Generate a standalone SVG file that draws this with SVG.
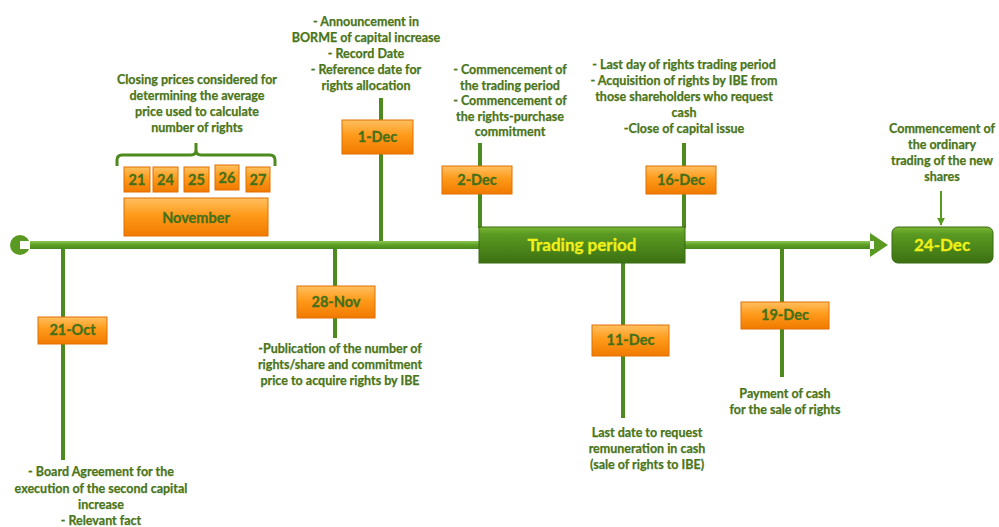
<svg xmlns="http://www.w3.org/2000/svg" width="999" height="527" viewBox="0 0 999 527">
<defs>
<linearGradient id="og" x1="0" y1="0" x2="0" y2="1">
<stop offset="0" stop-color="#ffc060"/>
<stop offset="0.45" stop-color="#ff9a1a"/>
<stop offset="1" stop-color="#f07a00"/>
</linearGradient>
<linearGradient id="gg" x1="0" y1="0" x2="0" y2="1">
<stop offset="0" stop-color="#7ab733"/>
<stop offset="0.2" stop-color="#5a9a22"/>
<stop offset="1" stop-color="#3c7012"/>
</linearGradient>
<linearGradient id="ax" x1="0" y1="0" x2="0" y2="1">
<stop offset="0" stop-color="#8cc850"/>
<stop offset="0.5" stop-color="#5c9e25"/>
<stop offset="1" stop-color="#4a8a1a"/>
</linearGradient>
<marker id="ah" viewBox="0 0 10 10" refX="9" refY="5" markerWidth="4" markerHeight="4" orient="auto">
<path d="M0,0 L10,5 L0,10 z" fill="#5a9a22"/>
</marker>
</defs>
<style>
text{font-family:"Lato","Open Sans","Liberation Sans",sans-serif;font-weight:bold;text-anchor:middle}
.t{font-size:12.5px;fill:#4a7518;stroke:#4a7518;stroke-width:0.25px}
.d{font-size:14.5px;fill:#44701a;stroke:#44701a;stroke-width:0.3px}
.y{font-size:17px;fill:#f0f018;stroke:#f0f018;stroke-width:0.3px}
.ob{fill:url(#og);stroke:#e07000;stroke-width:1}
.stem{stroke:#4e8a1e;stroke-width:4;fill:none}
</style>
<g id="connectors">
<line class="stem" x1="63" y1="249" x2="63" y2="460"/>
<line class="stem" x1="335" y1="249" x2="335" y2="338"/>
<line class="stem" x1="381" y1="98" x2="381" y2="242"/>
<line class="stem" x1="480" y1="143" x2="480" y2="228"/>
<line class="stem" x1="684" y1="143" x2="684" y2="228"/>
<line class="stem" x1="623" y1="262" x2="623" y2="418"/>
<line class="stem" x1="782" y1="249" x2="782" y2="377"/>
<line x1="941" y1="191" x2="941" y2="225" stroke="#5a9a22" stroke-width="2" marker-end="url(#ah)"/>
<path d="M117,166 V160 Q117,155 122,155 H191 Q196,155 196,150 V143 M196,150 Q196,155 201,155 H270 Q275,155 275,160 V166" fill="none" stroke="#4e8a1e" stroke-width="3"/>
</g>
<g id="axis">
<rect x="20" y="241" width="852" height="8" fill="url(#ax)"/>
<circle cx="20" cy="245" r="10" fill="#5a9a22"/>
<rect x="20" y="241" width="10" height="8" fill="#fff"/>
<path d="M870,233 L888,245 L870,257 z" fill="#5a9a22"/>
<rect x="870" y="241" width="4" height="8" fill="#fff"/>
</g>
<g id="trading-period">
<rect x="479" y="227" width="206" height="36" fill="url(#gg)" stroke="#3a6a10"/>
<text class="y" x="582" y="251">Trading period</text>
</g>
<g id="dec24">
<rect x="892" y="227" width="101" height="36" rx="6" fill="url(#gg)" stroke="#3a6a10"/>
<text class="y" x="942" y="251">24-Dec</text>
<text class="t"><tspan x="942" y="133">Commencement of</tspan><tspan x="942" y="149">the ordinary</tspan><tspan x="942" y="165">trading of the new</tspan><tspan x="942" y="181">shares</tspan></text>
</g>
<g id="november">
<text class="t"><tspan x="197" y="84">Closing prices considered for</tspan><tspan x="197" y="100">determining the average</tspan><tspan x="197" y="116">price used to calculate</tspan><tspan x="197" y="132">number of rights</tspan></text>
<rect class="ob" x="124" y="167" width="26" height="25"/><text class="d" x="137" y="185">21</text>
<rect class="ob" x="153" y="167" width="25" height="25"/><text class="d" x="165.5" y="185">24</text>
<rect class="ob" x="184" y="167" width="25" height="25"/><text class="d" x="196.5" y="185">25</text>
<rect class="ob" x="215" y="165" width="24" height="25"/><text class="d" x="227" y="183">26</text>
<rect class="ob" x="246" y="167" width="24" height="25"/><text class="d" x="258" y="185">27</text>
<rect class="ob" x="124" y="198" width="144" height="38"/><text class="d" x="196" y="223">November</text>
</g>
<g id="oct21">
<rect class="ob" x="38" y="317" width="69" height="27"/>
<text class="d" x="72.5" y="335">21-Oct</text>
<text class="t"><tspan x="101" y="476">-  Board Agreement for the</tspan><tspan x="101" y="493">execution of the second capital</tspan><tspan x="101" y="509">increase</tspan><tspan x="101" y="525">-  Relevant fact</tspan></text>
</g>
<g id="nov28">
<rect class="ob" x="297" y="286" width="78" height="32"/>
<text class="d" x="336" y="307">28-Nov</text>
<text class="t"><tspan x="340" y="353">-Publication of the number of</tspan><tspan x="340" y="369">rights/share and commitment</tspan><tspan x="340" y="385">price to acquire rights by IBE</tspan></text>
</g>
<g id="dec1">
<rect class="ob" x="342" y="120" width="71" height="34"/>
<text class="d" x="377.5" y="142">1-Dec</text>
<text class="t"><tspan x="366" y="26">- Announcement in</tspan><tspan x="366" y="42">BORME of capital increase</tspan><tspan x="366" y="58">- Record Date</tspan><tspan x="366" y="74">- Reference date for</tspan><tspan x="366" y="90">rights allocation</tspan></text>
</g>
<g id="dec2">
<rect class="ob" x="442" y="166" width="70" height="28"/>
<text class="d" x="477" y="185">2-Dec</text>
<text class="t"><tspan x="510" y="74">- Commencement of</tspan><tspan x="510" y="90">the trading period</tspan><tspan x="510" y="105">- Commencement of</tspan><tspan x="510" y="121">the rights-purchase</tspan><tspan x="510" y="136">commitment</tspan></text>
</g>
<g id="dec16">
<rect class="ob" x="646" y="166" width="70" height="28"/>
<text class="d" x="681" y="185">16-Dec</text>
<text class="t"><tspan x="684" y="69">- Last day of rights trading period</tspan><tspan x="684" y="85">- Acquisition of rights by IBE from</tspan><tspan x="684" y="101">those shareholders who request</tspan><tspan x="684" y="117">cash</tspan><tspan x="684" y="133">-Close of capital issue</tspan></text>
</g>
<g id="dec11">
<rect class="ob" x="592" y="325" width="77" height="31"/>
<text class="d" x="630.5" y="345">11-Dec</text>
<text class="t"><tspan x="647" y="437">Last date to request</tspan><tspan x="647" y="453">remuneration in cash</tspan><tspan x="647" y="469">(sale of rights to IBE)</tspan></text>
</g>
<g id="dec19">
<rect class="ob" x="741" y="302" width="88" height="27"/>
<text class="d" x="785" y="320">19-Dec</text>
<text class="t"><tspan x="785" y="398">Payment of cash</tspan><tspan x="785" y="414">for the sale of rights</tspan></text>
</g>
</svg>
